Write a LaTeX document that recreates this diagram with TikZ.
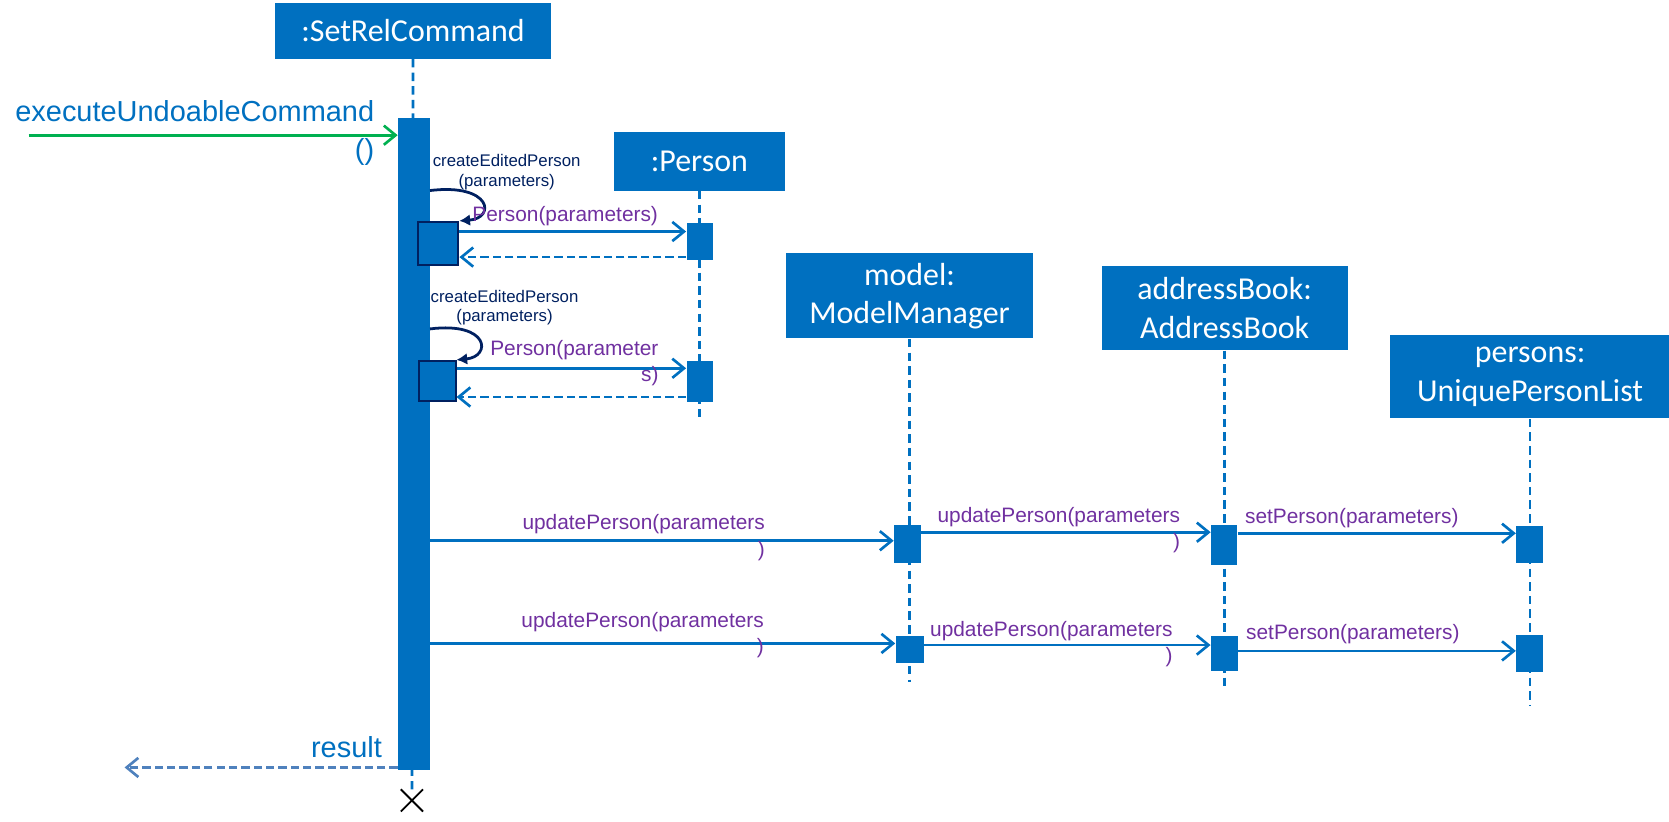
\documentclass[tikz,border=0pt]{standalone}
\usepackage{fontspec}
\setmainfont{Liberation Sans}
\newfontfamily\headfont{Carlito}
\usetikzlibrary{shapes.misc,positioning,arrows.meta,calc}
\definecolor{objblue}{HTML}{0070C0}
\definecolor{msgpurple}{HTML}{7030A0}
\definecolor{loopnavy}{HTML}{002060}
\definecolor{callgreen}{HTML}{00B050}
\definecolor{retblue}{HTML}{4F81BD}

\begin{document}
\begin{tikzpicture}[x=0.5pt,y=-0.5pt,>={Straight Barb[length=5.5pt,width=9pt]},
  obj/.style={fill=objblue,text=white,font=\headfont\fontsize{15}{18}\selectfont,align=center,inner sep=0pt},
  act/.style={fill=objblue,inner sep=0pt},
  lifeline/.style={objblue,line width=1.3pt,dash pattern=on 4pt off 2.4pt},
  msg/.style={->,objblue,line width=1.25pt},
  ret/.style={->,objblue,line width=1.25pt,dash pattern=on 3.9pt off 1.9pt},
  lbl/.style={text=msgpurple,font=\fontsize{9.8}{12.3}\selectfont,inner sep=0pt,align=right},
  selfcall/.style={-{Latex[length=5pt,width=5.5pt]},loopnavy,line width=1.3pt},
  selflbl/.style={text=loopnavy,font=\fontsize{7.9}{9.3}\selectfont,align=center,inner sep=0pt}]
\useasboundingbox (0,0) rectangle (1568,772);

\node[obj,minimum width=130pt,minimum height=26pt] (cmd) at (388,29) {:SetRelCommand};
\node[obj,minimum width=80.5pt,minimum height=27.5pt] (per) at (657,151.5) {:Person};
\node[obj,minimum width=116pt,minimum height=40pt] (mm) at (854.5,278) {model:\\ModelManager};
\node[obj,minimum width=115.5pt,minimum height=39.5pt] (ab) at (1150.5,289.5) {addressBook:\\AddressBook};
\node[obj,minimum width=131.5pt,minimum height=39pt] (upl) at (1437.5,354) {persons:\\UniquePersonList};

\node[cross out,draw=black,line width=0.9pt,minimum size=9.5pt,inner sep=0pt] (stop) at (387,752) {};
\coordinate[below=106.5pt of per.south] (perend);
\coordinate[below=161pt of mm.south] (mmend);
\coordinate[below=158pt of ab.south] (abend);
\coordinate[below=134.5pt of upl.south] (uplend);
\draw[lifeline] (cmd.south) -- (stop.north);
\draw[lifeline] (per.south) -- (perend);
\draw[lifeline] (mm.south) -- (mmend);
\draw[lifeline] (ab.south) -- (abend);
\draw[lifeline] (upl.south) -- (uplend);

\node[act,minimum width=15pt,minimum height=306pt] (main) at (389,417) {};
\node[act,draw=loopnavy,line width=0.9pt,minimum width=19pt,minimum height=20.3pt] (s1) at (411.7,228.7) {};
\node[act,draw=loopnavy,line width=0.9pt,minimum width=17pt,minimum height=19pt] (s2) at (411,358) {};
\node[act,minimum width=12.5pt,minimum height=17.5pt] (p1) at (657.5,227) {};
\node[act,minimum width=12.5pt,minimum height=19.5pt] (p2) at (657.5,358.5) {};
\node[act,minimum width=12.5pt,minimum height=17.75pt] (mm1) at (852.5,511.25) {};
\node[act,minimum width=12.2pt,minimum height=18.5pt] (ab1) at (1150,512) {};
\node[act,minimum width=12.5pt,minimum height=17.3pt] (up1) at (1437,511.7) {};
\node[act,minimum width=13.25pt,minimum height=12.6pt] (mm2) at (854.7,610.4) {};
\node[act,minimum width=12.5pt,minimum height=16.3pt] (ab2) at (1150.2,614.1) {};
\node[act,minimum width=12.5pt,minimum height=17.2pt] (up2) at (1437,614.2) {};

\coordinate (entry) at (27,127);
\draw[msg,callgreen] (entry) -- (entry -| main.west);
\node[anchor=east,text=objblue,font=\fontsize{13.6}{17.75}\selectfont,align=right,inner sep=0pt] (callname) at (352,125) {executeUndoableCommand\\()};

\coordinate (loopa) at (404,179);
\draw[selfcall] (loopa) .. controls (462,172) and (466,205) .. (s1.north east);
\node[selflbl] (cl1) at (476,161.5) {createEditedPerson\\(parameters)};
\coordinate (m1) at (540,217.5);
\draw[msg] (s1.east |- m1) -- (p1.west |- m1);
\node[lbl] (m1name) at (531,203) {Person(parameters)};
\coordinate (r1) at (540,241.5);
\draw[ret] (p1.west |- r1) -- (s1.east |- r1);

\coordinate (loopb) at (404,309);
\draw[selfcall] (loopb) .. controls (460,302) and (462,335) .. (s2.north east);
\node[selflbl] (cl2) at (474,289) {createEditedPerson\\(parameters)};
\coordinate (m2) at (540,346);
\draw[msg] (s2.east |- m2) -- (p2.west |- m2);
\node[lbl,anchor=east] (m2name) at (619,341.5) {Person(parameter\\s)};
\coordinate (r2) at (540,373);
\draw[ret] (p2.west |- r2) -- (s2.east |- r2);

\coordinate (u1) at (620,508);
\draw[msg] (main.east |- u1) -- (mm1.west |- u1);
\node[lbl,anchor=east] (u1name) at (719,505) {updatePerson(parameters\\)};
\coordinate (v1) at (1000,500);
\draw[msg] (mm1.east |- v1) -- (ab1.west |- v1);
\node[lbl,anchor=east] (v1name) at (1109,498) {updatePerson(parameters\\)};
\coordinate (w1) at (1290,501);
\draw[msg] (ab1.east |- w1) -- (up1.west |- w1);
\node[lbl] (w1name) at (1270,487) {setPerson(parameters)};

\coordinate (u2) at (620,604.5);
\draw[msg] (main.east |- u2) -- (mm2.west |- u2);
\node[lbl,anchor=east] (u2name) at (718,597) {updatePerson(parameters\\)};
\coordinate (v2) at (1000,606);
\draw[msg] (mm2.east |- v2) -- (ab2.west |- v2);
\node[lbl,anchor=east] (v2name) at (1102,605) {updatePerson(parameters\\)};
\coordinate (w2) at (1290,611.5);
\draw[msg] (ab2.east |- w2) -- (up2.west |- w2);
\node[lbl] (w2name) at (1271,596) {setPerson(parameters)};

\coordinate (caller) at (117,721);
\draw[ret,retblue] (caller -| main.west) -- (caller);
\node[text=objblue,font=\fontsize{13.6}{16}\selectfont,inner sep=0pt] (resname) at (325.5,701.5) {result};
\end{tikzpicture}
\end{document}
